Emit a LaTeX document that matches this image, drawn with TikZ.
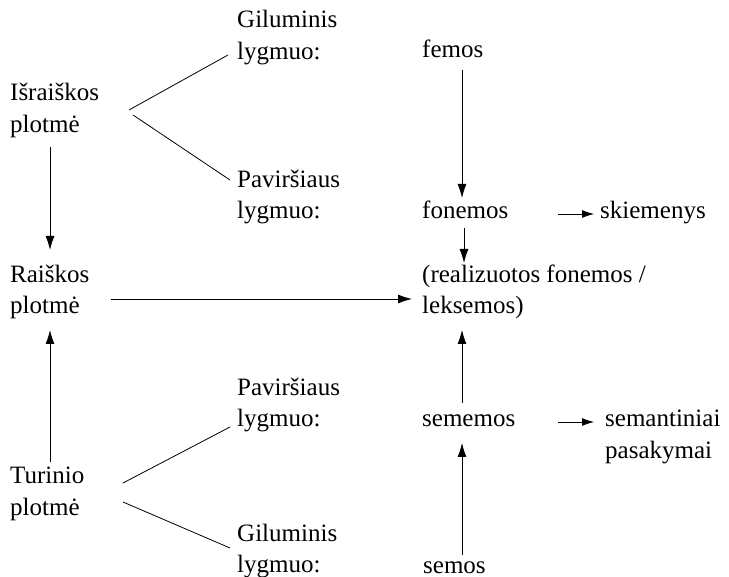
\documentclass[tikz,border=0pt]{standalone}
\usepackage{fontspec}
\setmainfont{Liberation Serif}
\usetikzlibrary{arrows.meta}
\tikzset{
  lbl/.style={anchor=base west, inner sep=0pt, font=\fontsize{25}{30}\selectfont},
  conn/.style={line width=0.8pt, black},
  arr/.style={conn, -{Latex[length=14pt,width=9pt]}},
  sarr/.style={conn, -{Latex[length=12pt,width=8pt]}}
}
\begin{document}
\begin{tikzpicture}[x=1pt,y=-1pt]
\useasboundingbox (0,0) rectangle (729,577);
% left column
\node[lbl] (isa) at (10,101) {Išraiškos};
\node[lbl] (isb) at (10,133) {plotmė};
\node[lbl] (ra) at (10,283) {Raiškos};
\node[lbl] (rb) at (10,313.5) {plotmė};
\node[lbl] (ta) at (10,484) {Turinio};
\node[lbl] (tb) at (10,515.5) {plotmė};
% middle column
\node[lbl] (g1a) at (237,28) {Giluminis};
\node[lbl] (g1b) at (237,59.5) {lygmuo:};
\node[lbl] (p1a) at (237,187.5) {Paviršiaus};
\node[lbl] (p1b) at (237,219) {lygmuo:};
\node[lbl] (p2a) at (237,395.5) {Paviršiaus};
\node[lbl] (p2b) at (237,427) {lygmuo:};
\node[lbl] (g2a) at (237,541) {Giluminis};
\node[lbl] (g2b) at (237,572.5) {lygmuo:};
% right column
\node[lbl] (fe) at (422,58) {femos};
\node[lbl] (fo) at (422,219) {fonemos};
\node[lbl] (sk) at (600,219) {skiemenys};
\node[lbl] (rz) at (422,283) {(realizuotos fonemos /};
\node[lbl] (lk) at (422,313.5) {leksemos)};
\node[lbl] (se) at (422,427) {sememos};
\node[lbl] (sa) at (605,427) {semantiniai};
\node[lbl] (sb) at (605,458.5) {pasakymai};
\node[lbl] (so) at (423,573) {semos};
% connector end points
\coordinate (isL1) at (129,110); \coordinate (g1L) at (228,55);
\coordinate (isL2) at (133,115); \coordinate (p1L) at (230,180);
\coordinate (tL1) at (123,483); \coordinate (p2L) at (230,427);
\coordinate (tL2) at (123,502); \coordinate (g2L) at (230,548);
\coordinate (isD) at (50,147); \coordinate (raU) at (50,250);
\coordinate (taU) at (50,462); \coordinate (rbD) at (50,330);
\coordinate (raR) at (111,299); \coordinate (rzL) at (412,299);
\coordinate (feD) at (462,70); \coordinate (foU) at (462,198);
\coordinate (foD) at (464,228); \coordinate (rzU) at (464,263);
\coordinate (seU) at (462,403); \coordinate (lkD) at (462,330);
\coordinate (soU) at (462,555); \coordinate (seD) at (462,443);
\coordinate (foR) at (558,214); \coordinate (skL) at (594,214);
\coordinate (seR) at (558,422); \coordinate (saL) at (594,422);
% lines
\draw[conn] (isL1) -- (g1L);
\draw[conn] (isL2) -- (p1L);
\draw[conn] (tL1) -- (p2L);
\draw[conn] (tL2) -- (g2L);
% arrows
\draw[arr] (isD) -- (raU);
\draw[arr] (taU) -- (rbD);
\draw[arr] (raR) -- (rzL);
\draw[arr] (feD) -- (foU);
\draw[arr] (foD) -- (rzU);
\draw[arr] (seU) -- (lkD);
\draw[arr] (soU) -- (seD);
\draw[sarr] (foR) -- (skL);
\draw[sarr] (seR) -- (saL);
\end{tikzpicture}
\end{document}
